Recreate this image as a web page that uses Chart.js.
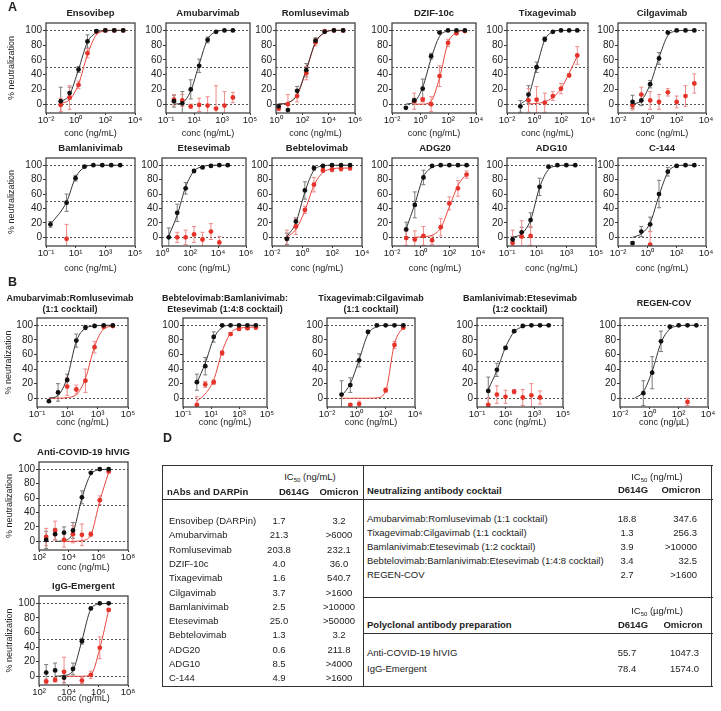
<!DOCTYPE html>
<html>
<head>
<meta charset="utf-8">
<script src="https://cdn.jsdelivr.net/npm/chart.js@4.4.0/dist/chart.umd.min.js"></script>
<style>
  body { margin: 0; background: #fff; font-family: "Liberation Sans", Arial, sans-serif; color: #222; }
  #page { position: relative; width: 721px; height: 711px; overflow: hidden; background: #fff; }
  .t { position: absolute; white-space: nowrap; line-height: 12px; font-size: 9.5px; }
  .b { font-weight: bold; }
  .ln { position: absolute; background: #333; }
  sub { font-size: 6px; vertical-align: -2px; line-height: 0; }
</style>
</head>
<body>
<div id="page"></div>
<script>
// concentration series (ng/mL)
const concA = [0.098, 0.39, 1.56, 6.25, 25, 100, 400, 1600];
const concAmu = [0.37, 1.46, 5.86, 23.4, 93.8, 375, 1500, 6000];
const concRom = [1.6, 8, 40, 200, 1000, 5000, 25000, 125000];
const concBam = [0.2, 2.44, 9.77, 39.1, 156, 625, 2500, 10000];
const concEte = [3.05, 12.2, 48.8, 195, 781, 3125, 12500, 50000];
const concAdg10 = [0.24, 0.98, 3.9, 15.6, 62.5, 250, 1000, 4000];
const concCock = [0.61, 2.44, 9.77, 39.1, 156, 625, 2500, 10000];
const concTriple = [0.98, 3.9, 15.6, 62.5, 250, 1000, 4000, 16000];
const concIg = [305, 1221, 4883, 19531, 78125, 312500, 1250000, 5000000];

// axis ticks
const xTicksM2 = [0.01, 1, 100, 10000];
const xLabelsM2 = ['10⁻²', '10⁰', '10²', '10⁴'];
const xTicksM1 = [0.1, 10, 1000, 100000];
const xLabelsM1 = ['10⁻¹', '10¹', '10³', '10⁵'];
const xTicks0 = [1, 100, 10000, 1000000];
const xLabels0 = ['10⁰', '10²', '10⁴', '10⁶'];
const xTicks2 = [100, 1e4, 1e6, 1e8];
const xLabels2 = ['10²', '10⁴', '10⁶', '10⁸'];
const yTicks = [0, 20, 40, 60, 80, 100];
const refLines = [0, 50, 100];

// % neutralization: D614G (black) and Omicron (red), mean / SD / fitted curve
const ensoD = [4, 15, 47, 85, 99, 100, 100, 100];
const ensoDErr = [19, 8, 4, 9, 2, 0, 0, 0];
const ensoDFit = [3, 13, 47, 84, 97, 100, 100, 100];
const ensoO = [-1, 9, 26, 69, 98, 100, 100, 100];
const ensoOErr = [9, 16, 5, 6, 2, 0, 0, 0];
const ensoOFit = [1, 6, 27, 67, 94, 99, 100, 100];

const amuD = [4, 1, 20, 52, 87, 98, 100, 100];
const amuDErr = [8, 16, 13, 9, 4, 1, 0, 0];
const amuDFit = [0, 2, 18, 54, 88, 98, 100, 100];
const amuO = [6, 5, -3, -1, -2, -6, -2, 9];
const amuOErr = [7, 8, 3, 9, 12, 31, 19, 7];

const romD = [-3, -8, 18, 46, 86, 98, 100, 100];
const romDErr = [3, 0, 6, 9, 4, 1, 0, 0];
const romDFit = [0, 2, 13, 47, 84, 97, 100, 100];
const romO = [-6, 0, 11, 42, 84, 99, 100, 100];
const romOErr = [3, 13, 8, 9, 5, 1, 0, 0];
const romOFit = [0, 2, 12, 46, 83, 97, 100, 100];

const dzifD = [-5, 5, 21, 65, 97, 100, 100, 100];
const dzifDErr = [0, 3, 13, 4, 1, 0, 0, 0];
const dzifDFit = [0, 3, 23, 62, 92, 99, 100, 100];
const dzifO = [null, 4, 6, 0, 38, 83, 96, 99];
const dzifOErr = [0, 11, 3, 10, 14, 5, 1, 1];
const dzifOFit = [null, 0, 0, 4, 36, 83, 97, 100];

const tixD = [-3, 13, 50, 88, 98, 100, 100, 100];
const tixDErr = [8, 12, 7, 3, 1, 0, 0, 0];
const tixDFit = [0, 11, 50, 87, 98, 100, 100, 100];
const tixO = [null, 5, 6, 2, 11, 21, 39, 66];
const tixOErr = [0, 16, 18, 13, 6, 7, 2, 12];
const tixOFit = [null, 0, 1, 3, 9, 21, 42, 65];

const cilD = [3, 5, 27, 62, 97, 100, 100, 100];
const cilDErr = [9, 7, 5, 8, 1, 0, 0, 0];
const cilDFit = [0, 5, 27, 63, 93, 99, 100, 100];
const cilO = [-2, 13, 5, 3, 16, 3, 11, 28];
const cilOErr = [6, 10, 12, 10, 5, 8, 14, 13];

const bamD = [18, 48, 82, 98, 100, 100, 100, 100];
const bamDErr = [4, 12, 4, 1, 0, 0, 0, 0];
const bamDFit = [18, 49, 83, 97, 100, 100, 100, 100];
const bamO = [null, -2, null, null, null, null, null, null];
const bamOErr = [0, 20, 0, 0, 0, 0, 0, 0];

const eteD = [0, 34, 68, 92, 97, 99, 100, 100];
const eteDErr = [13, 12, 8, 2, 1, 0, 0, 0];
const eteDFit = [2, 31, 70, 92, 98, 100, 100, 100];
const eteO = [null, 0, 0, 4, -3, 8, -7, null];
const eteOErr = [0, 7, 10, 11, 10, 11, 8, 0];

const bebD = [-2, 22, 65, 96, 99, 100, 100, 100];
const bebDErr = [8, 5, 12, 3, 1, 0, 0, 0];
const bebDFit = [1, 20, 63, 93, 99, 100, 100, 100];
const bebO = [-2, 15, 38, 73, 93, 94, 95, 96];
const bebOErr = [12, 11, 5, 10, 3, 3, 3, 3];
const bebOFit = [0, 11, 37, 72, 90, 95, 96, 96];

const adg20D = [11, 45, 83, 99, 100, 100, 100, 100];
const adg20DErr = [10, 18, 10, 1, 0, 0, 0, 0];
const adg20DFit = [12, 46, 84, 97, 100, 100, 100, 100];
const adg20O = [-1, -3, 2, -4, 14, 47, 68, 87];
const adg20OErr = [10, 12, 13, 6, 12, 9, 11, 5];
const adg20OFit = [null, 0, 1, 3, 13, 42, 72, 88];

const adg10D = [-3, 7, 24, 70, 98, 100, 100, 100];
const adg10DErr = [4, 7, 10, 12, 1, 0, 0, 0];
const adg10DFit = [0, 5, 24, 69, 94, 99, 100, 100];
const adg10O = [-8, 1, 2, null, null, null, null, null];
const adg10OErr = [18, 22, 13, 0, 0, 0, 0, 0];

const c144D = [-8, 8, 18, 60, 91, 99, 100, 100];
const c144DErr = [2, 7, 10, 19, 6, 1, 0, 0];
const c144DFit = [0, 5, 20, 58, 90, 99, 100, 100];
const c144O = [null, null, -10, null, null, null, null, null];
const c144OErr = [0, 0, 18, 0, 0, 0, 0, 0];

const amuRomD = [-4, 8, 25, 79, 97, 99, 100, 100];
const amuRomDErr = [0, 12, 8, 9, 3, 1, 0, 0];
const amuRomDFit = [0, 4, 28, 78, 96, 99, 100, 100];
const amuRomO = [null, null, 16, 12, 24, 70, 98, 99];
const amuRomOErr = [0, 0, 12, 6, 16, 8, 2, 1];
const amuRomOFit = [0, 0, 1, 5, 27, 71, 95, 99];

const tripleD = [22, 44, 84, 100, 100, 100, 100, 100];
const tripleDErr = [11, 12, 7, 1, 0, 0, 0, 0];
const tripleDFit = [21, 48, 82, 97, 100, 100, 100, 100];
const tripleO = [-9, 19, 22, 62, 88, 95, 96, 97];
const tripleOErr = [11, 4, 3, 3, 2, 2, 2, 2];
const tripleOFit = [-4, 6, 25, 64, 89, 96, 97, 98];

const tixCilD = [5, 18, 52, 91, 100, 100, 100, 100];
const tixCilDErr = [19, 10, 9, 2, 1, 0, 0, 0];
const tixCilDFit = [3, 20, 53, 88, 98, 100, 100, 100];
const tixCilO = [null, -9, -8, null, null, 11, 73, 97];
const tixCilOErr = [0, 0, 4, 0, 0, 3, 5, 2];
const tixCilOFit = [0, 0, 0, 0, 0.5, 10, 75, 98];

const bamEteD = [10, 39, 69, 92, 99, 100, 100, 100];
const bamEteDErr = [19, 9, 2, 2, 1, 0, 0, 0];
const bamEteDFit = [12, 38, 70, 91, 98, 100, 100, 100];
const bamEteO = [-9, 5, 2, 9, 1, 4, 1, null];
const bamEteOErr = [10, 12, 9, 3, 11, 16, 9, 0];

const regenD = [null, 7, 35, 78, 98, 100, 100, 100];
const regenDErr = [0, 17, 22, 14, 1, 0, 0, 0];
const regenDFit = [0, 9, 37, 76, 95, 99, 100, 100];
const regenO = [null, null, null, null, null, null, -5, null];
const regenOErr = [0, 0, 0, 0, 0, 0, 5, 0];

const ivigD = [2, 10, 12, 15, 61, 95, 100, 100];
const ivigDErr = [12, 8, 8, 11, 9, 1, 0, 0];
const ivigDFit = [null, 0, 1, 12, 60, 93, 99, 100];
const ivigO = [6, 15, 2, 10, 9, 10, 57, 97];
const ivigOErr = [12, 13, 10, 12, 15, 3, 6, 2];
const ivigOFit = [null, null, 0, 0, 1, 9, 56, 96];

const iggD = [5, 8, -2, 10, 48, 93, 100, 100];
const iggDErr = [11, 10, 7, 8, 4, 1, 0, 0];
const iggDFit = [null, 0, 1, 8, 49, 92, 99, 100];
const iggO = [-7, -5, 6, null, -6, 2, 39, 91];
const iggOErr = [3, 3, 20, 0, 4, 5, 15, 2];
const iggOFit = [null, null, 0, 0, 0, 2, 38, 91];

// table D
const nabNames = ['Ensovibep (DARPin)', 'Amubarvimab', 'Romlusevimab', 'DZIF-10c', 'Tixagevimab', 'Cilgavimab',
  'Bamlanivimab', 'Etesevimab', 'Bebtelovimab', 'ADG20', 'ADG10', 'C-144'];
const nabD614G = ['1.7', '21.3', '203.8', '4.0', '1.6', '3.7', '2.5', '25.0', '1.3', '0.6', '8.5', '4.9'];
const nabOmicron = ['3.2', '>6000', '232.1', '36.0', '540.7', '>1600', '>10000', '>50000', '3.2', '211.8', '>4000', '>1600'];
const cocktailNames = ['Amubarvimab:Romlusevimab (1:1 cocktail)', 'Tixagevimab:Cilgavimab (1:1 cocktail)',
  'Bamlanivimab:Etesevimab (1:2 cocktail)', 'Bebtelovimab:Bamlanivimab:Etesevimab (1:4:8 cocktail)', 'REGEN-COV'];
const cocktailD614G = ['18.8', '1.3', '3.9', '3.4', '2.7'];
const cocktailOmicron = ['347.6', '256.3', '>10000', '32.5', '>1600'];
const polyNames = ['Anti-COVID-19 hIVIG', 'IgG-Emergent'];
const polyD614G = ['55.7', '78.4'];
const polyOmicron = ['1047.3', '1574.0'];

// ---------------------------------------------------------------
const FONT = '"Liberation Sans", Arial, sans-serif';
const INK = '#222';
const BLACK = '#111', BLACK_ERR = '#7a7a7a', BLACK_LINE = '#333';
const RED = '#e5332a', RED_ERR = '#f08a8a', RED_LINE = '#e8463e';
const page = document.getElementById('page');

const panels = [
  // A, top row
  { title: ['Ensovibep'], conc: concA, xt: xTicksM2, xl: xLabelsM2, d: ensoD, dErr: ensoDErr, dFit: ensoDFit, o: ensoO, oErr: ensoOErr, oFit: ensoOFit, box: [46, 23, 135, 113], yTitle: true },
  { title: ['Amubarvimab'], conc: concAmu, xt: xTicksM1, xl: xLabelsM1, d: amuD, dErr: amuDErr, dFit: amuDFit, o: amuO, oErr: amuOErr, box: [166, 23, 250, 113] },
  { title: ['Romlusevimab'], conc: concRom, xt: xTicks0, xl: xLabels0, d: romD, dErr: romDErr, dFit: romDFit, o: romO, oErr: romOErr, oFit: romOFit, box: [276, 23, 355, 113] },
  { title: ['DZIF-10c'], conc: concA, xt: xTicksM2, xl: xLabelsM2, d: dzifD, dErr: dzifDErr, dFit: dzifDFit, o: dzifO, oErr: dzifOErr, oFit: dzifOFit, box: [392, 23, 476, 113] },
  { title: ['Tixagevimab'], conc: concA, xt: xTicksM2, xl: xLabelsM2, d: tixD, dErr: tixDErr, dFit: tixDFit, o: tixO, oErr: tixOErr, oFit: tixOFit, box: [507, 23, 588, 113] },
  { title: ['Cilgavimab'], conc: concA, xt: xTicksM2, xl: xLabelsM2, d: cilD, dErr: cilDErr, dFit: cilDFit, o: cilO, oErr: cilOErr, box: [618, 23, 706, 113] },
  // A, bottom row
  { title: ['Bamlanivimab'], conc: concBam, xt: xTicksM1, xl: xLabelsM1, d: bamD, dErr: bamDErr, dFit: bamDFit, o: bamO, oErr: bamOErr, box: [46, 158, 135, 246], yTitle: true },
  { title: ['Etesevimab'], conc: concEte, xt: xTicks0, xl: xLabels0, d: eteD, dErr: eteDErr, dFit: eteDFit, o: eteO, oErr: eteOErr, box: [162, 158, 246, 246] },
  { title: ['Bebtelovimab'], conc: concA, xt: xTicksM2, xl: xLabelsM2, d: bebD, dErr: bebDErr, dFit: bebDFit, o: bebO, oErr: bebOErr, oFit: bebOFit, box: [272, 158, 362, 246] },
  { title: ['ADG20'], conc: concA, xt: xTicksM2, xl: xLabelsM2, d: adg20D, dErr: adg20DErr, dFit: adg20DFit, o: adg20O, oErr: adg20OErr, oFit: adg20OFit, box: [392, 158, 478, 246] },
  { title: ['ADG10'], conc: concAdg10, xt: xTicksM1, xl: xLabelsM1, d: adg10D, dErr: adg10DErr, dFit: adg10DFit, o: adg10O, oErr: adg10OErr, box: [507, 158, 596, 246] },
  { title: ['C-144'], conc: concA, xt: xTicksM2, xl: xLabelsM2, d: c144D, dErr: c144DErr, dFit: c144DFit, o: c144O, oErr: c144OErr, box: [618, 158, 706, 246] },
  // B
  { title: ['Amubarvimab:Romlusevimab', '(1:1 cocktail)'], tx: 70, conc: concCock, xt: xTicksM1, xl: xLabelsM1, d: amuRomD, dErr: amuRomDErr, dFit: amuRomDFit, o: amuRomO, oErr: amuRomOErr, oFit: amuRomOFit, box: [37, 318, 128, 407], yTitle: true },
  { title: ['Bebtelovimab:Bamlanivimab:', 'Etesevimab (1:4:8 cocktail)'], conc: concTriple, xt: xTicksM1, xl: xLabelsM1, d: tripleD, dErr: tripleDErr, dFit: tripleDFit, o: tripleO, oErr: tripleOErr, oFit: tripleOFit, box: [183, 318, 267, 407] },
  { title: ['Tixagevimab:Cilgavimab', '(1:1 cocktail)'], conc: concA, xt: xTicksM2, xl: xLabelsM2, d: tixCilD, dErr: tixCilDErr, dFit: tixCilDFit, o: tixCilO, oErr: tixCilOErr, oFit: tixCilOFit, box: [327, 318, 415, 407] },
  { title: ['Bamlanivimab:Etesevimab', '(1:2 cocktail)'], conc: concCock, xt: xTicksM1, xl: xLabelsM1, d: bamEteD, dErr: bamEteDErr, dFit: bamEteDFit, o: bamEteO, oErr: bamEteOErr, box: [477, 318, 563, 407] },
  { title: ['REGEN-COV'], conc: concA, xt: xTicksM2, xl: xLabelsM2, d: regenD, dErr: regenDErr, dFit: regenDFit, o: regenO, oErr: regenOErr, box: [620, 318, 708, 407], xTitle: 'conc (ng/µL)' },
  // C
  { title: ['Anti-COVID-19 hIVIG'], conc: concIg, xt: xTicks2, xl: xLabels2, d: ivigD, dErr: ivigDErr, dFit: ivigDFit, o: ivigO, oErr: ivigOErr, oFit: ivigOFit, box: [39, 462, 128, 550], yTitle: true },
  { title: ['IgG-Emergent'], conc: concIg, xt: xTicks2, xl: xLabels2, d: iggD, dErr: iggDErr, dFit: iggDFit, o: iggO, oErr: iggOErr, oFit: iggOFit, box: [39, 596, 128, 685], yTitle: true }
];

// row layout: y-axis width, x-title offset below plot, title centre y, title size
const rowStyle = [
  { n: 6, yw: 40, xoff: 21, ty: 13, ts: 9.5 },
  { n: 6, yw: 40, xoff: 23, ty: 148, ts: 9.5 },
  { n: 5, yw: 34, xoff: 16, ty: 299, ts: 9 },
  { n: 1, yw: 35, xoff: 18, ty: 452, ts: 9.5 },
  { n: 1, yw: 35, xoff: 14, ty: 586, ts: 9.5 }
];

// error bars drawn through the chart scales
const errorBars = {
  id: 'errorBars',
  beforeDatasetsDraw(chart) {
    const { ctx, chartArea: a, scales: { x, y } } = chart;
    ctx.save();
    ctx.beginPath();
    ctx.rect(a.left, a.top, a.right - a.left, a.bottom - a.top);
    ctx.clip();
    chart.data.datasets.forEach(ds => {
      if (!ds.errColor) return;
      ctx.strokeStyle = ds.errColor;
      ctx.lineWidth = 1;
      ds.data.forEach(q => {
        if (!q.e) return;
        const px = x.getPixelForValue(q.x);
        const y1 = y.getPixelForValue(q.y + q.e);
        const y2 = y.getPixelForValue(q.y - q.e);
        ctx.beginPath();
        ctx.moveTo(px, y1); ctx.lineTo(px, y2);
        ctx.moveTo(px - 2, y1); ctx.lineTo(px + 2, y1);
        ctx.moveTo(px - 2, y2); ctx.lineTo(px + 2, y2);
        ctx.stroke();
      });
    });
    ctx.restore();
  }
};

const frame = {
  id: 'frame',
  afterDraw(chart) {
    const { ctx, chartArea: a } = chart;
    ctx.save();
    ctx.strokeStyle = '#444';
    ctx.lineWidth = 1.3;
    ctx.strokeRect(a.left, a.top, a.right - a.left, a.bottom - a.top);
    ctx.restore();
  }
};

function addText(html, x, y, align, cls, size) {
  const d = document.createElement('div');
  d.className = 't' + (cls ? ' ' + cls : '');
  d.innerHTML = html;
  d.style.left = x + 'px';
  d.style.top = (y - 6) + 'px';
  if (size) d.style.fontSize = size + 'px';
  if (align === 'center') { d.style.transform = 'translateX(-50%)'; d.style.textAlign = 'center'; }
  if (align === 'right') d.style.transform = 'translateX(-100%)';
  page.appendChild(d);
  return d;
}

function buildChart(p, rs) {
  const [l, t, r, b] = p.box;
  const W = rs.yw + (r - l) + 12;
  const H = 10 + (b - t) + 30;
  const cv = document.createElement('canvas');
  cv.width = W; cv.height = H;
  Object.assign(cv.style, { position: 'absolute', left: (l - rs.yw) + 'px', top: (t - 10) + 'px', width: W + 'px', height: H + 'px' });
  page.appendChild(cv);

  const pts = (ys, errs) => p.conc.map((x, i) => ({ x, y: ys[i], e: errs ? errs[i] : 0 }))
    .filter(q => q.y !== null && q.y !== undefined);

  const datasets = [
    { label: 'D614G', data: pts(p.d, p.dErr), order: 1, showLine: false, pointRadius: 2.4,
      pointBackgroundColor: BLACK, pointBorderWidth: 0, errColor: BLACK_ERR }
  ];
  if (p.o) datasets.push({ label: 'Omicron', data: pts(p.o, p.oErr), order: 2, showLine: false, pointRadius: 2.4,
    pointBackgroundColor: RED, pointBorderWidth: 0, errColor: RED_ERR });
  if (p.dFit) datasets.push({ label: 'D614G fit', data: pts(p.dFit), order: 3, showLine: true, pointRadius: 0,
    borderColor: BLACK_LINE, borderWidth: 1, cubicInterpolationMode: 'monotone', fill: false });
  if (p.oFit) datasets.push({ label: 'Omicron fit', data: pts(p.oFit), order: 4, showLine: true, pointRadius: 0,
    borderColor: RED_LINE, borderWidth: 1, cubicInterpolationMode: 'monotone', fill: false });

  const allY = [...new Set([...yTicks, ...refLines])].sort((a, c) => a - c);

  new Chart(cv, {
    type: 'scatter',
    data: { datasets },
    options: {
      responsive: false,
      animation: false,
      devicePixelRatio: 1,
      layout: { padding: { top: 10, right: 12, left: 0, bottom: 0 } },
      plugins: { legend: { display: false }, tooltip: { enabled: false } },
      scales: {
        x: {
          type: 'logarithmic',
          min: p.xt[0],
          max: p.xt[p.xt.length - 1],
          afterBuildTicks: s => { s.ticks = p.xt.map(v => ({ value: v })); },
          afterFit: s => { s.height = 30; },
          ticks: { autoSkip: false, maxRotation: 0, padding: 0, color: INK,
            font: { family: FONT, size: 9.5 }, callback: (v, i) => p.xl[i] },
          grid: { drawOnChartArea: false, drawTicks: true, tickLength: 2, color: '#333' },
          border: { display: false },
          title: { display: true, text: p.xTitle || 'conc (ng/mL)', color: INK,
            font: { family: FONT, size: 9 }, padding: { top: 0, bottom: 24.6 - rs.xoff } }
        },
        y: {
          min: -12,
          max: 110,
          afterBuildTicks: s => { s.ticks = allY.map(v => ({ value: v })); },
          afterFit: s => { s.width = rs.yw; },
          ticks: { autoSkip: false, padding: 1, color: INK, font: { family: FONT, size: 10 },
            callback: v => yTicks.includes(v) ? String(v) : '' },
          grid: {
            drawOnChartArea: true, drawTicks: true, tickLength: 3, lineWidth: 1,
            color: c => (c.tick && refLines.includes(c.tick.value)) ? '#555' : 'rgba(0,0,0,0)',
            tickColor: c => (c.tick && yTicks.includes(c.tick.value)) ? '#333' : 'rgba(0,0,0,0)'
          },
          border: { display: false, dash: [2, 2] },
          title: { display: !!p.yTitle, text: '% neutralization', color: INK,
            font: { family: FONT, size: 9 }, padding: 0 }
        }
      }
    },
    plugins: [errorBars, frame]
  });

  // panel title, centred over the plot
  const cx = p.tx !== undefined ? p.tx : (l + r) / 2;
  const tdiv = addText(p.title.join('<br>'), cx, rs.ty, 'center', 'b', rs.ts);
  tdiv.style.lineHeight = '11px';
  if (p.title.length === 1 && rs.n === 5) tdiv.style.top = (rs.ty - 1) + 'px';
}

let k = 0;
rowStyle.forEach(rs => {
  for (let i = 0; i < rs.n; i++) buildChart(panels[k++], rs);
});

// panel letters
[['A', 8, 7], ['B', 8, 282], ['C', 13, 438], ['D', 163, 438]].forEach(([s, x, y]) => {
  addText(s, x, y, 'left', 'b', 12.5);
});

// ---- table D ----
function line(x, y, w, h) {
  const d = document.createElement('div');
  d.className = 'ln';
  Object.assign(d.style, { left: x + 'px', top: y + 'px', width: w + 'px', height: h + 'px' });
  page.appendChild(d);
}
line(162, 465, 551, 1.3);
line(162, 686, 551, 1.3);
line(162, 465, 1.3, 222);
line(711, 465, 1.3, 222);
line(363, 465, 1.3, 222);
line(162, 499, 551, 1.3);
line(363, 597, 350, 1.3);
line(363, 633, 350, 1.3);

addText('IC<sub>50</sub> (ng/mL)', 310, 477, 'center');
addText('nAbs and DARPin', 167, 492, 'left', 'b');
addText('D614G', 294, 492, 'center', 'b');
addText('Omicron', 339, 492, 'center', 'b');
nabNames.forEach((n, i) => {
  const y = 521 + i * 14.3;
  addText(n, 169, y, 'left');
  addText(nabD614G[i], 279, y, 'center');
  addText(nabOmicron[i], 339, y, 'center');
});

addText('IC<sub>50</sub> (ng/mL)', 657, 477, 'center');
addText('Neutralizing antibody cocktail', 367, 491, 'left', 'b');
addText('D614G', 633, 490, 'center', 'b');
addText('Omicron', 681, 490, 'center', 'b');
cocktailNames.forEach((n, i) => {
  const y = 519 + i * 14;
  addText(n, 367, y, 'left');
  addText(cocktailD614G[i], 627, y, 'center');
  addText(cocktailOmicron[i], 697, y, 'right');
});

addText('IC<sub>50</sub> (µg/mL)', 657, 611, 'center');
addText('Polyclonal antibody preparation', 367, 625, 'left', 'b');
addText('D614G', 633, 625, 'center', 'b');
addText('Omicron', 683, 625, 'center', 'b');
polyNames.forEach((n, i) => {
  const y = 653 + i * 16;
  addText(n, 367, y, 'left');
  addText(polyD614G[i], 627, y, 'center');
  addText(polyOmicron[i], 699, y, 'right');
});
</script>
</body>
</html>
